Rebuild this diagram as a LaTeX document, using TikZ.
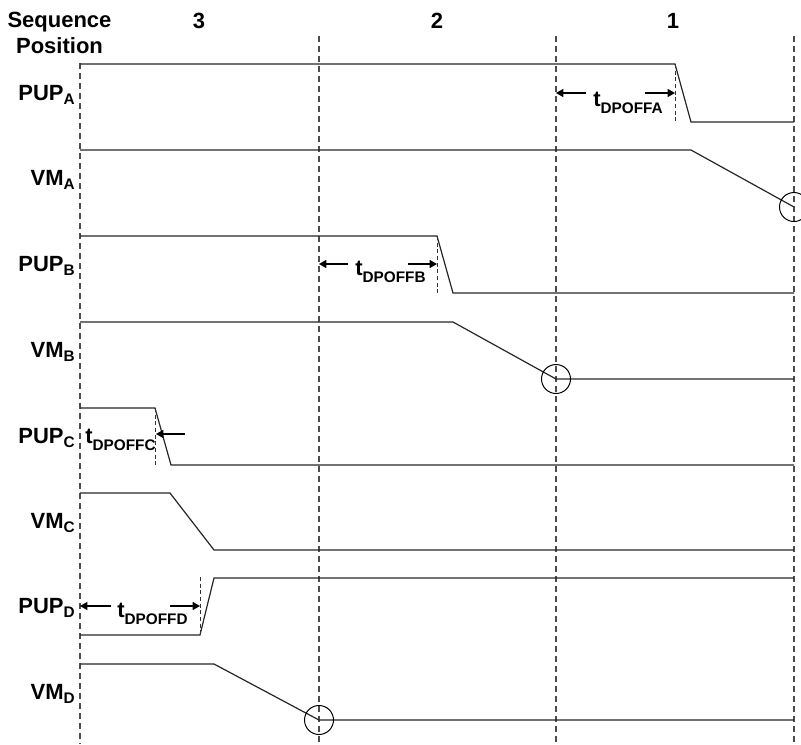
\documentclass[tikz,border=0pt]{standalone}
\usepackage{fontspec}
\setmainfont{Liberation Sans}
\usetikzlibrary{arrows.meta}
% signal name with a lowered, smaller index
\newcommand\rowlab[2]{#1\raisebox{-3.2pt}{\fontsize{11.5pt}{11.5pt}\selectfont #2}}
% delay symbol t_DPOFFx
\newcommand\tdpoff[1]{t\raisebox{-5.25pt}{\fontsize{11.5pt}{11.5pt}\selectfont DPOFF#1}}

\begin{document}
\begin{tikzpicture}[x=0.75pt,y=-0.75pt,
  lab/.style={font=\bfseries\fontsize{16.5pt}{18pt}\selectfont, inner sep=0pt},
  sig/.style={line width=0.9pt, black!85, line join=miter},
  gridline/.style={line width=0.8pt, black!70, dash pattern=on 4.5pt off 3pt},
  edgemark/.style={line width=0.6pt, black!80, dash pattern=on 3pt off 2pt},
  dimarrow/.style={line width=0.9pt, black, -{Triangle[length=5.5pt,width=6pt]}},
  ring/.style={draw, line width=0.75pt, circle, minimum size=21.75pt, inner sep=0pt}
]
\useasboundingbox (0,0) rectangle (801,744);

% ---- header ----
\node[lab, anchor=base] (seq) at (59.5,27) {Sequence};
\node[lab, anchor=base] (pos) at (59.5,53) {Position};
\node[lab, anchor=base] (n3) at (199,28) {3};
\node[lab, anchor=base] (n2) at (437,28) {2};
\node[lab, anchor=base] (n1) at (673,28) {1};

% ---- sequence boundaries ----
\coordinate (g0t) at (80,63);   \coordinate (g0b) at (80,744);
\coordinate (g1t) at (319,36);  \coordinate (g1b) at (319,744);
\coordinate (g2t) at (556,36);  \coordinate (g2b) at (556,744);
\coordinate (g3t) at (794,36);  \coordinate (g3b) at (794,744);
\foreach \g in {0,1,2,3} \draw[gridline] (g\g t) -- (g\g b);

% ---- row labels ----
\node[lab, anchor=base east] (lpa) at (75,100)   {\rowlab{PUP}{A}};
\node[lab, anchor=base east] (lva) at (75,185.5) {\rowlab{VM}{A}};
\node[lab, anchor=base east] (lpb) at (75,271.5) {\rowlab{PUP}{B}};
\node[lab, anchor=base east] (lvb) at (75,357)   {\rowlab{VM}{B}};
\node[lab, anchor=base east] (lpc) at (75,443)   {\rowlab{PUP}{C}};
\node[lab, anchor=base east] (lvc) at (75,528.5) {\rowlab{VM}{C}};
\node[lab, anchor=base east] (lpd) at (75,613.5) {\rowlab{PUP}{D}};
\node[lab, anchor=base east] (lvd) at (75,699)   {\rowlab{VM}{D}};

% ---- waveforms ----
\draw[sig] (80,64) -- (675,64) -- (691,122) -- (794,122);      % PUP_A
\draw[sig] (80,150) -- (691,150) -- (794,207);                 % VM_A
\draw[sig] (80,236) -- (437,236) -- (453,293) -- (794,293);    % PUP_B
\draw[sig] (80,322) -- (453,322) -- (556,379) -- (794,379);    % VM_B
\draw[sig] (80,408) -- (155,408) -- (171,465) -- (794,465);    % PUP_C
\draw[sig] (80,493) -- (170,493) -- (214,550) -- (794,550);    % VM_C
\draw[sig] (80,635) -- (200,635) -- (214,578) -- (794,578);    % PUP_D
\draw[sig] (80,664) -- (214,664) -- (319,720) -- (794,720);    % VM_D

% ---- end-of-ramp circles ----
\node[ring] (ra) at (794,207) {};
\node[ring] (rb) at (556,379) {};
\node[ring] (rd) at (319,720) {};

% ---- switching edge markers ----
\draw[edgemark] (675,64) -- (675,122);
\draw[edgemark] (437,236) -- (437,293);
\draw[edgemark] (155,408) -- (155,465);
\draw[edgemark] (200,577) -- (200,635);

% ---- delay annotations ----
\node[lab, anchor=base west] (ta) at (593,106) {\tdpoff{A}};
\coordinate (a1) at (586,93); \coordinate (a0) at (556,93);
\coordinate (a2) at (645,93); \coordinate (a3) at (675,93);
\draw[dimarrow] (a1) -- (a0);
\draw[dimarrow] (a2) -- (a3);

\node[lab, anchor=base west] (tb) at (355,275) {\tdpoff{B}};
\coordinate (b1) at (348,264); \coordinate (b0) at (319,264);
\coordinate (b2) at (408,264); \coordinate (b3) at (437,264);
\draw[dimarrow] (b1) -- (b0);
\draw[dimarrow] (b2) -- (b3);

\node[lab, anchor=base west] (tc) at (85,443) {\tdpoff{C}};
\coordinate (c1) at (185,434); \coordinate (c0) at (156,434);
\draw[dimarrow] (c1) -- (c0);

\node[lab, anchor=base west] (td) at (117,617) {\tdpoff{D}};
\coordinate (d1) at (111,606); \coordinate (d0) at (80,606);
\coordinate (d2) at (170,606); \coordinate (d3) at (200,606);
\draw[dimarrow] (d1) -- (d0);
\draw[dimarrow] (d2) -- (d3);
\end{tikzpicture}
\end{document}
